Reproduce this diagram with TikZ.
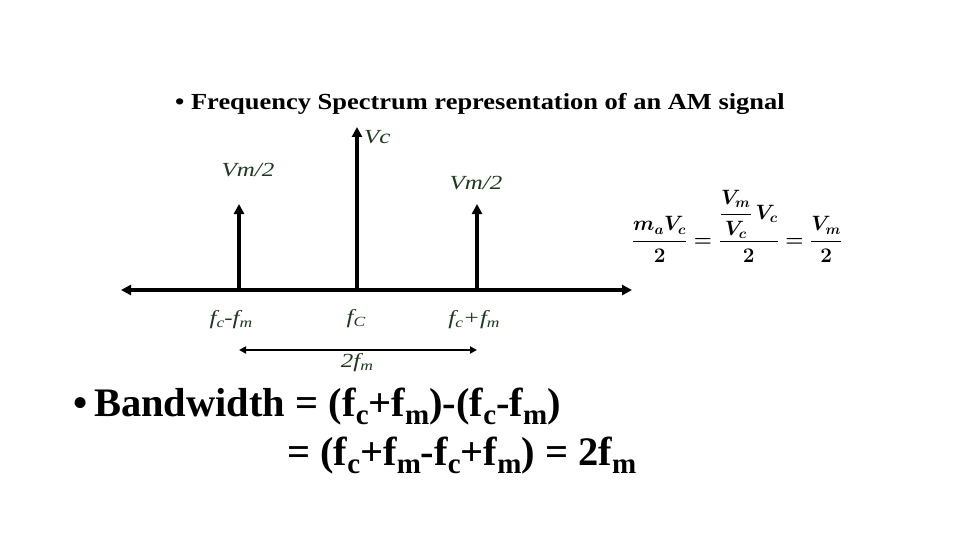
\documentclass[tikz,border=0pt]{standalone}
\usepackage{fontspec}
\setmainfont{Liberation Serif}
\usepackage{amsmath}
\usetikzlibrary{arrows.meta}
\definecolor{lblgreen}{HTML}{1E3A1E}
\newcommand{\lblsub}[1]{\raisebox{-0.3ex}{\fontsize{14}{14}\selectfont #1}}
\newcommand{\bigsub}[1]{\raisebox{-0.45ex}{\fontsize{29}{29}\selectfont #1}}
\begin{document}
\begin{tikzpicture}[x=1pt,y=-1pt,
  axisline/.style={line width=3.6pt,-{Triangle[length=10pt,width=10pt]}},
  dblarrow/.style={line width=2.4pt,{Triangle[length=7pt,width=7pt]}-{Triangle[length=7pt,width=7pt]}},
  lbl/.style={font=\fontsize{20}{22}\selectfont\itshape, text=lblgreen, inner sep=0pt},
  bigtxt/.style={font=\fontsize{40.5}{43}\selectfont\bfseries, inner sep=0pt, anchor=base west}]
\useasboundingbox (0,0) rectangle (960,540);
% axis
\coordinate (axL) at (121,290);
\coordinate (axR) at (632,290);
\coordinate (mid) at (376,290);
\draw[axisline] (mid) -- (axL);
\draw[axisline] (mid) -- (axR);
% spikes
\coordinate (b1) at (239,290); \coordinate (t1) at (239,204);
\coordinate (b2) at (357,290); \coordinate (t2) at (357,127);
\coordinate (b3) at (477,290); \coordinate (t3) at (477,204);
\draw[axisline] (b1) -- (t1);
\draw[axisline] (b2) -- (t2);
\draw[axisline] (b3) -- (t3);
% title
\node[font=\fontsize{23}{26}\selectfont\bfseries, inner sep=0pt, anchor=base west] (title) at (175,110)
  {\scalebox{1.15}[1]{\textbullet\ Frequency Spectrum representation of an AM signal}};
% labels
\node[lbl, anchor=west] (vc) at (364,137) {\scalebox{1.25}[1]{Vc}};
\node[lbl] (vm1) at (248,170) {\scalebox{1.25}[1]{Vm/2}};
\node[lbl] (vm2) at (476,183) {\scalebox{1.25}[1]{Vm/2}};
\node[lbl] (f1) at (231,320) {\scalebox{1.25}[1]{f\lblsub{c}-f\lblsub{m}}};
\node[lbl] (f2) at (356,319) {\scalebox{1.25}[1]{f\lblsub{C}}};
\node[lbl] (f3) at (474,320) {\scalebox{1.25}[1]{f\lblsub{c}+f\lblsub{m}}};
% bandwidth arrow
\coordinate (bwL) at (239,350); \coordinate (bwR) at (477,350);
\draw[dblarrow] (bwL) -- (bwR);
\node[lbl] (bw) at (357,363) {\scalebox{1.25}[1]{2f\lblsub{m}}};
% formula
\node[inner sep=0pt, font=\fontsize{21}{24}\selectfont] (formula) at (737,226)
  {$\boldsymbol{\dfrac{m_aV_c}{2}=\dfrac{\dfrac{V_m}{V_c}\,V_c}{2}=\dfrac{V_m}{2}}$};
% bandwidth text
\node[bigtxt] (line1) at (73,416) {\textbullet\,Bandwidth = (f\bigsub{c}+f\bigsub{m})-(f\bigsub{c}-f\bigsub{m})};
\node[bigtxt] (line2) at (287,465) {= (f\bigsub{c}+f\bigsub{m}-f\bigsub{c}+f\bigsub{m}) = 2f\bigsub{m}};
\end{tikzpicture}
\end{document}
